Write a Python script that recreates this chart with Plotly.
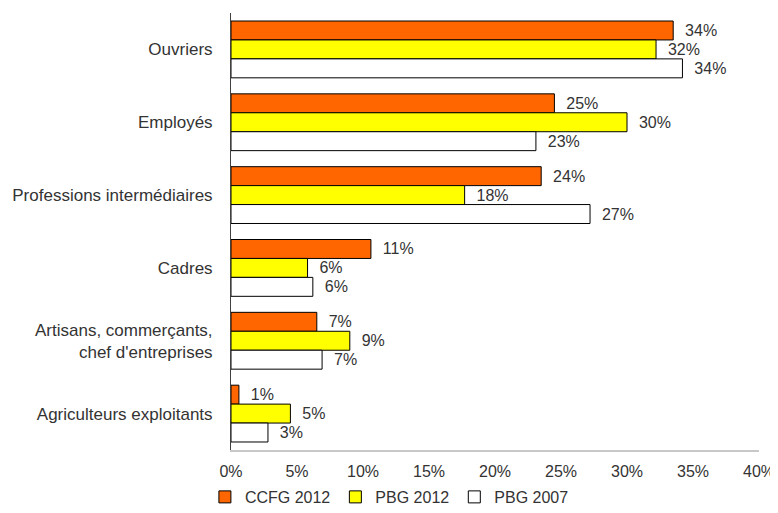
import plotly.graph_objects as go

CATEGORIES = [
  "Ouvriers",
  "Employés",
  "Professions intermédiaires",
  "Cadres",
  "Artisans, commerçants,<br>chef d'entreprises",
  "Agriculteurs exploitants",
]
CCFG_2012 = [33.5, 24.5, 23.5, 10.6, 6.5, 0.6]
PBG_2012 = [32.2, 30.0, 17.7, 5.8, 9.0, 4.5]
PBG_2007 = [34.2, 23.1, 27.2, 6.2, 6.9, 2.8]
CCFG_LABELS = ["34%", "25%", "24%", "11%", "7%", "1%"]
PBG_2012_LABELS = ["32%", "30%", "18%", "6%", "9%", "5%"]
PBG_2007_LABELS = ["34%", "23%", "27%", "6%", "7%", "3%"]
X_TICKS = [0, 5, 10, 15, 20, 25, 30, 35, 40]

FONT = "Liberation Sans, Arial, sans-serif"
TEXT = "#333333"
PAD = "\u00a0\u00a0"

series = [
  ("CCFG 2012", CCFG_2012, CCFG_LABELS, "#ff6600"),
  ("PBG 2012", PBG_2012, PBG_2012_LABELS, "#ffff00"),
  ("PBG 2007", PBG_2007, PBG_2007_LABELS, "#ffffff"),
]

fig = go.Figure()
for name, values, labels, color in series:
  fig.add_trace(
    go.Bar(
      y=CATEGORIES,
      x=values,
      orientation="h",
      name=name,
      text=[PAD + t for t in labels],
      textposition="outside",
      cliponaxis=False,
      textfont=dict(size=16, color=TEXT, family=FONT),
      marker=dict(color=color, line=dict(color="#000000", width=1)),
    )
  )

# the page body adds an 8px margin, so the figure is drawn 8px smaller
fig.update_layout(
  width=770,
  height=505,
  barmode="group",
  bargap=0.22,
  bargroupgap=0,
  paper_bgcolor="white",
  plot_bgcolor="white",
  font=dict(family=FONT, size=16, color=TEXT),
  margin=dict(l=223, r=19, t=5, b=63, autoexpand=False),
  xaxis=dict(
    range=[0, 40],
    tickvals=X_TICKS,
    ticktext=[f"{v}%" for v in X_TICKS],
    showgrid=False,
    zeroline=False,
    showline=True,
    linecolor="#c8c8c8",
    linewidth=2,
    ticks="",
    ticklabelstandoff=6,
    automargin=False,
  ),
  yaxis=dict(
    autorange="reversed",
    showgrid=False,
    showline=True,
    linecolor="#404040",
    linewidth=1,
    ticks="",
    ticklabelstandoff=14,
    tickfont=dict(size=17),
    automargin=False,
  ),
  legend=dict(
    orientation="h",
    x=0.3,
    xanchor="center",
    y=-0.1075,
    yanchor="middle",
    font=dict(size=16, color=TEXT),
    itemwidth=30,
  ),
)

fig.write_html("out.html")
